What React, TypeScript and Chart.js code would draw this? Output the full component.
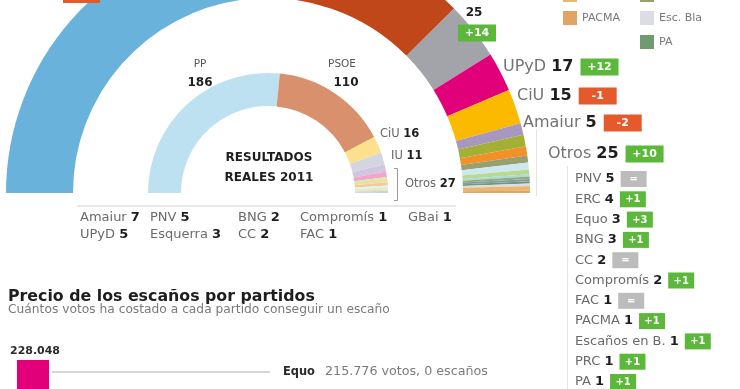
import React, { useEffect, useRef } from "react";
import { Chart, registerables } from "chart.js";
Chart.register(...registerables);

// ---- Data -----------------------------------------------------------
// Simulated Congress (outer ring), clockwise from the left
const outerParties = ["PP", "PSOE", "IU", "UPyD", "CiU", "Amaiur", "PNV", "ERC", "Equo", "BNG", "CC", "FAC", "GBai", "PRC", "PA", "Esc. en B.", "Compromís", "PACMA"];
const outerSeats = [161, 102, 25, 17, 15, 5, 5, 4, 3, 3, 2, 1, 1, 1, 1, 1, 2, 1];
const outerColors = ["#68b2dc", "#c04719", "#a2a4a9", "#e2007a", "#fbb900", "#a898bf", "#a2b135", "#f2912a", "#98a070", "#cde9ef", "#b9d98f", "#a8d8e0", "#8fb070", "#8898b0", "#6f9c6f", "#dcdce4", "#e9b870", "#e2a462"];

// Real results 2011 (inner ring)
const realParties = ["PP", "PSOE", "CiU", "IU", "Amaiur", "UPyD", "PNV", "ERC", "BNG", "CC", "Compromís", "FAC", "GBai"];
const realSeats = [186, 110, 16, 11, 7, 5, 5, 3, 2, 2, 1, 1, 1];
const realColors = ["#bee1f2", "#d9916d", "#fde08c", "#d3d6de", "#cfc6e0", "#f3a6cb", "#dfe6a8", "#f8c995", "#dff1f8", "#e0eec8", "#f2d6b0", "#cdd9c4", "#c4d0e6"];
const realLabelNames = ["PP", "PSOE", "CiU", "IU", "Amaiur", "UPyD", "PNV", "Esquerra", "BNG", "CC", "Compromís", "FAC", "GBai"];

// Right-hand breakdown of "Otros"
const otrosList = ["PNV", "ERC", "Equo", "BNG", "CC", "Compromís", "FAC", "PACMA", "Esc. en B.", "PRC", "PA", "GBai"];
const otrosListNames = ["PNV", "ERC", "Equo", "BNG", "CC", "Compromís", "FAC", "PACMA", "Escaños en B.", "PRC", "PA", "GBai"];
const legendParties = ["Compromís", "Equo", "PACMA", "Esc. en B.", "PA"];
const legendNames = ["Compromís", "Equo", "PACMA", "Esc. Bla", "PA"];

// Price of a seat (votes per seat)
const priceParties = ["UPyD", "IU", "Compromís", "FAC", "BNG", "ERC", "CC", "PNV", "PSOE", "CiU", "PP", "Amaiur", "GBai"];
const pricePerSeat = [228048, 153276, 125306, 99173, 92018, 85662, 71940, 64863, 63668, 63481, 58423, 47785, 42415];
const priceColors = ["#e2007a", "#a2a4a9", "#e9b870", "#a8d8e0", "#cde9ef", "#f2912a", "#b9d98f", "#a2b135", "#c04719", "#fbb900", "#68b2dc", "#a898bf", "#8fb070"];
const equoVotes = 215776;
const equoSeats = 0;
const priceAxisMin = 198400;
const priceAxisMax = 248500;

// ---- Helpers ---------------------------------------------------------
const FONT = '"DejaVu Sans", "Liberation Sans", sans-serif';
const GREEN = "#5cb83a";
const ORANGE = "#e6592a";
const GRAYBOX = "#bcbcbc";

const fmt = (n: number) => String(n).replace(/\B(?=(\d{3})+(?!\d))/g, ".");
const seatsOf = (names: string[], seats: number[], p: string) => {
  const i = names.indexOf(p);
  return i < 0 ? 0 : seats[i];
};
const sum = (a: number[]) => a.reduce((s, v) => s + v, 0);

function font(ctx: CanvasRenderingContext2D, size: number, bold = false) {
  ctx.font = `${bold ? "bold " : ""}${size}px ${FONT}`;
}
function fitSize(ctx: CanvasRenderingContext2D, text: string, w: number, bold = false) {
  font(ctx, 20, bold);
  return (20 * w) / ctx.measureText(text).width;
}
function nameNum(ctx: CanvasRenderingContext2D, x: number, y: number, name: string, num: number, size: number, nameColor = "#6a6a6a") {
  ctx.textAlign = "left";
  font(ctx, size);
  ctx.fillStyle = nameColor;
  ctx.fillText(name, x, y);
  const cx = x + ctx.measureText(name + " ").width;
  font(ctx, size, true);
  ctx.fillStyle = "#1e1e1e";
  ctx.fillText(String(num), cx, y);
  return cx + ctx.measureText(String(num)).width;
}
function badge(ctx: CanvasRenderingContext2D, x: number, y: number, w: number, h: number, diff: number, size: number) {
  ctx.fillStyle = diff > 0 ? GREEN : diff < 0 ? ORANGE : GRAYBOX;
  ctx.fillRect(x, y - h / 2, w, h);
  font(ctx, size, true);
  ctx.fillStyle = "#ffffff";
  ctx.textAlign = "center";
  const t = diff > 0 ? `+${diff}` : diff < 0 ? `${diff}` : "=";
  ctx.fillText(t, x + w / 2, y + 0.5);
  ctx.textAlign = "left";
}

// ---- Plugins ---------------------------------------------------------
const ringLabels = {
  id: "ringLabels",
  afterDraw(chart: any) {
    const ctx: CanvasRenderingContext2D = chart.ctx;
    ctx.save();
    ctx.textBaseline = "middle";

    const o = (p: string) => seatsOf(outerParties, outerSeats, p);
    const r = (p: string) => seatsOf(realParties, realSeats, p);

    // PP change box (mostly above the crop)
    ctx.fillStyle = ORANGE;
    ctx.fillRect(63, -12, 37, 15);

    // IU label
    font(ctx, 12, true);
    ctx.fillStyle = "#1e1e1e";
    ctx.textAlign = "center";
    ctx.fillText(String(o("IU")), 474, 13);
    font(ctx, 11);
    ctx.fillStyle = "#6a6a6a";
    ctx.fillText("IU", 474, -4);
    badge(ctx, 458, 33, 38, 17, o("IU") - r("IU"), 11);

    // Main outer labels
    const otrosOuter = sum(outerSeats.slice(6));
    const otrosReal = sum(realSeats.slice(4)) - r("Amaiur") - r("UPyD");
    const big: [string, number, number, number, number][] = [
      ["UPyD", o("UPyD"), o("UPyD") - r("UPyD"), 503, 67],
      ["CiU", o("CiU"), o("CiU") - r("CiU"), 517, 96],
      ["Amaiur", o("Amaiur"), o("Amaiur") - r("Amaiur"), 523, 123],
      ["Otros", otrosOuter, otrosOuter - otrosReal, 548, 154],
    ];
    big.forEach(([n, v, d, x, y]) => {
      const end = nameNum(ctx, x, y, n, v, 16, "#737373");
      badge(ctx, end + 7, y, 38, 17, d, 11);
    });

    // Brackets / separators
    ctx.strokeStyle = "#e4e4e4";
    ctx.lineWidth = 1;
    ctx.beginPath();
    ctx.moveTo(536.5, 130);
    ctx.lineTo(536.5, 196);
    ctx.moveTo(567.5, 166);
    ctx.lineTo(567.5, 389);
    ctx.stroke();

    // Otros breakdown list
    otrosList.forEach((p, i) => {
      const y = 179 + i * 20.3;
      const end = nameNum(ctx, 575, y, otrosListNames[i], o(p), 13);
      badge(ctx, end + 6, y, 26, 16, o(p) - r(p), 10);
    });

    // Legend (top right)
    const lx = [563, 640, 563, 640, 640];
    const ly = [-5, -5, 18, 18, 42];
    legendParties.forEach((p, i) => {
      ctx.fillStyle = outerColors[outerParties.indexOf(p)];
      ctx.fillRect(lx[i], ly[i] - 7, 14, 14);
      font(ctx, 11);
      ctx.fillStyle = "#777";
      ctx.textAlign = "left";
      ctx.fillText(legendNames[i], lx[i] + 19, ly[i]);
    });

    // Inner ring labels
    ctx.textAlign = "center";
    font(ctx, 10.5);
    ctx.fillStyle = "#555";
    ctx.fillText("PP", 200, 64);
    ctx.fillText("PSOE", 342, 64);
    font(ctx, 12, true);
    ctx.fillStyle = "#1e1e1e";
    ctx.fillText(String(r("PP")), 200, 83);
    ctx.fillText(String(r("PSOE")), 346, 83);

    nameNum(ctx, 380, 134, "CiU", r("CiU"), 11.5, "#666");
    nameNum(ctx, 391, 156, "IU", r("IU"), 11.5, "#666");
    nameNum(ctx, 405, 184, "Otros", sum(realSeats.slice(4)), 11.5, "#666");
    ctx.strokeStyle = "#9a9a9a";
    ctx.beginPath();
    ctx.moveTo(394, 168.5);
    ctx.lineTo(397.5, 168.5);
    ctx.lineTo(397.5, 200.5);
    ctx.lineTo(394, 200.5);
    ctx.stroke();

    ctx.textAlign = "center";
    ctx.fillStyle = "#1e1e1e";
    font(ctx, 12, true);
    ctx.fillText("RESULTADOS", 269, 158);
    ctx.fillText("REALES 2011", 269, 177.5);

    // Line under the rings
    ctx.strokeStyle = "#e8e8e8";
    ctx.lineWidth = 2;
    ctx.beginPath();
    ctx.moveTo(77, 206);
    ctx.lineTo(456, 206);
    ctx.stroke();

    // Breakdown of 2011 "Otros"
    const colX = [80, 150, 238, 300, 408];
    realParties.slice(4).forEach((p, i) => {
      const col = Math.floor(i / 2);
      const row = i % 2;
      nameNum(ctx, colX[col], 218 + row * 17, realLabelNames[4 + i], realSeats[4 + i], 13);
    });

    // Section title
    ctx.textAlign = "left";
    const title = "Precio de los escaños por partidos";
    font(ctx, fitSize(ctx, title, 307, true), true);
    ctx.fillStyle = "#1e1e1e";
    ctx.fillText(title, 8, 297);
    const sub = "Cuántos votos ha costado a cada partido conseguir un escaño";
    font(ctx, fitSize(ctx, sub, 382));
    ctx.fillStyle = "#7a7a7a";
    ctx.fillText(sub, 8, 310);

    ctx.restore();
  },
};

const priceLabels = {
  id: "priceLabels",
  afterDatasetsDraw(chart: any) {
    const ctx: CanvasRenderingContext2D = chart.ctx;
    const meta = chart.getDatasetMeta(0);
    const b = meta.data[0];
    ctx.save();
    ctx.textBaseline = "middle";
    ctx.textAlign = "center";
    ctx.fillStyle = "#2a2a2a";
    const val = fmt(pricePerSeat[0]);
    font(ctx, fitSize(ctx, val, 50, true), true);
    ctx.fillText(val, b.x + 2, b.y - 9);

    const yE = chart.scales.y.getPixelForValue(equoVotes);
    ctx.strokeStyle = "#d6d6d6";
    ctx.lineWidth = 2;
    ctx.beginPath();
    ctx.moveTo(b.x + b.width / 2 + 3, yE);
    ctx.lineTo(270, yE);
    ctx.stroke();

    ctx.textAlign = "left";
    font(ctx, fitSize(ctx, "Equo", 32, true), true);
    ctx.fillStyle = "#2a2a2a";
    ctx.fillText("Equo", 283, yE);
    const rest = `${fmt(equoVotes)} votos, ${equoSeats} escaños`;
    font(ctx, fitSize(ctx, rest, 163));
    ctx.fillStyle = "#7a7a7a";
    ctx.fillText(rest, 325, yE);
    ctx.restore();
  },
};

// ---- Component -------------------------------------------------------
export default function App() {
  const ringRef = useRef<HTMLCanvasElement>(null);
  const barRef = useRef<HTMLCanvasElement>(null);

  useEffect(() => {
    const ring = new Chart(ringRef.current as HTMLCanvasElement, {
      type: "doughnut",
      data: {
        labels: outerParties,
        datasets: [
          { label: "Simulación", data: outerSeats, backgroundColor: outerColors, borderWidth: 0, weight: 67, clip: false } as any,
          { label: "", data: [sum(outerSeats)], backgroundColor: ["rgba(0,0,0,0)"], borderWidth: 0, weight: 75, clip: false } as any,
          { label: "Resultados reales 2011", data: realSeats, backgroundColor: realColors, borderWidth: 0, weight: 33, clip: false } as any,
        ],
      },
      options: {
        responsive: false,
        animation: false,
        events: [],
        rotation: -90,
        circumference: 180,
        radius: 262,
        cutout: "33.2%",
        layout: { padding: { left: 0, top: 0, right: 204, bottom: 265 } },
        plugins: { legend: { display: false }, tooltip: { enabled: false }, title: { display: false } },
      } as any,
      plugins: [ringLabels],
    });

    const bar = new Chart(barRef.current as HTMLCanvasElement, {
      type: "bar",
      data: {
        labels: priceParties,
        datasets: [
          {
            label: "Votos por escaño",
            data: pricePerSeat,
            backgroundColor: priceColors,
            borderWidth: 0,
            barPercentage: 0.66,
            categoryPercentage: 0.9,
          },
        ],
      },
      options: {
        responsive: false,
        animation: false,
        events: [],
        layout: { padding: { left: 6, right: 32, top: 340, bottom: 0 } },
        scales: {
          x: { display: false },
          y: { display: false, min: priceAxisMin, max: priceAxisMax },
        },
        plugins: { legend: { display: false }, tooltip: { enabled: false } },
      } as any,
      plugins: [priceLabels],
    });

    return () => {
      ring.destroy();
      bar.destroy();
    };
  }, []);

  const cs: React.CSSProperties = { position: "absolute", left: 0, top: 0, width: 740, height: 389 };
  return (
    <div style={{ position: "absolute", left: 0, top: 0, width: 740, height: 389, overflow: "hidden", background: "#fff" }}>
      <canvas ref={ringRef} width={740} height={389} style={cs} />
      <canvas ref={barRef} width={740} height={389} style={cs} />
    </div>
  );
}
